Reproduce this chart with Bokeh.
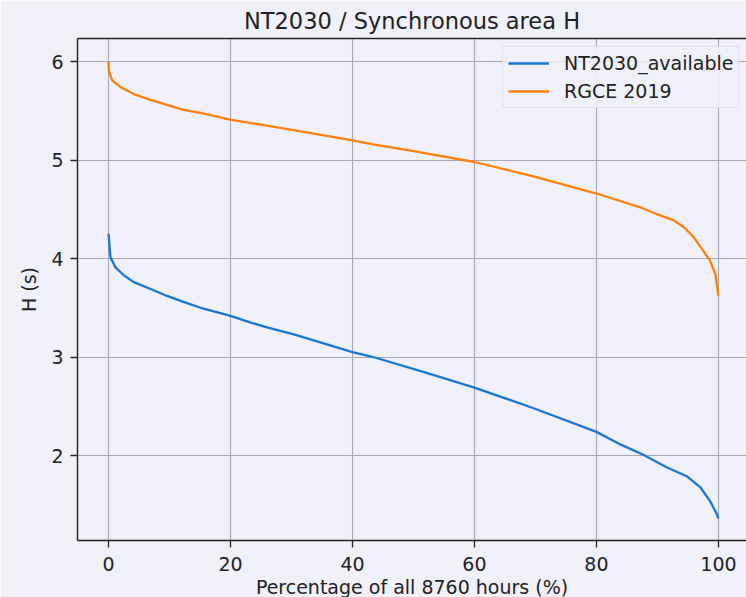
from bokeh.plotting import figure
from bokeh.models import Range1d, LinearAxis, FixedTicker, Legend, LegendItem, Grid
from bokeh.embed import file_html
from bokeh.resources import INLINE

# ---- data ----
title_text = "NT2030 / Synchronous area H"
x_label = "Percentage of all 8760 hours (%)"
y_label = "H (s)"

nt2030_name = "NT2030_available"
nt2030_x = [0, 0.33, 1.15, 2.5, 4.15, 6.9, 9.6, 12.3, 15.1, 19.9, 23.3, 26, 30.4,
            40, 43.4, 51.6, 60, 69.7, 80, 84, 87.6, 91.5, 94.8, 97, 98.6, 99.7, 100]
nt2030_h = [4.25, 4.01, 3.91, 3.83, 3.76, 3.69, 3.62, 3.56, 3.50, 3.42, 3.35, 3.30, 3.23,
            3.05, 3.00, 2.85, 2.69, 2.48, 2.24, 2.11, 2.01, 1.88, 1.79, 1.68, 1.54, 1.41, 1.36]

rgce_name = "RGCE 2019"
rgce_x = [0, 0.05, 0.6, 2, 4.15, 6.9, 9.6, 12.3, 15.1, 19.9, 26, 31.5, 40, 43.4,
          50, 60, 70, 80, 87.2, 89.9, 92.6, 94.3, 95.9, 97.5, 98.6, 99.5, 100]
rgce_h = [6.0, 5.91, 5.81, 5.74, 5.67, 5.61, 5.56, 5.51, 5.48, 5.41, 5.35, 5.29, 5.20, 5.16,
          5.09, 4.98, 4.83, 4.66, 4.52, 4.45, 4.39, 4.32, 4.22, 4.08, 3.98, 3.84, 3.62]

x_ticks = [0, 20, 40, 60, 80, 100]
y_ticks = [2, 3, 4, 5, 6]

BG = "#f0f0f8"
FONT = "DejaVu Sans"
INK = "#222222"

p = figure(width=746, height=603, output_backend="svg", toolbar_location=None,
           x_range=Range1d(-5.08, 104.6), y_range=Range1d(1.137, 6.234),
           x_axis_type=None, y_axis_type=None,
           min_border_left=77, min_border_right=0, min_border_top=38, min_border_bottom=63)
p.background_fill_color = BG
p.border_fill_color = BG
p.outline_line_color = None

p.title.text = title_text
p.title.align = "center"
p.title.text_font = FONT
p.title.text_font_size = "22.5px"
p.title.text_font_style = "normal"
p.title.text_color = INK
p.title.standoff = 10

def style_axis(ax, ticks):
    ax.ticker = FixedTicker(ticks=ticks)
    ax.axis_line_color = INK
    ax.axis_line_width = 1.4
    ax.major_tick_line_color = INK
    ax.major_tick_line_width = 1.3
    ax.major_tick_out = 7
    ax.major_tick_in = 0
    ax.minor_tick_out = 0
    ax.minor_tick_in = 0
    ax.major_label_text_font = FONT
    ax.major_label_text_font_size = "19px"
    ax.major_label_text_color = INK
    ax.axis_label_text_font = FONT
    ax.axis_label_text_font_size = "19px"
    ax.axis_label_text_font_style = "normal"
    ax.axis_label_text_color = INK

xaxis = LinearAxis(axis_label=x_label)
style_axis(xaxis, x_ticks)
xaxis.major_label_standoff = 9
xaxis.axis_label_standoff = 2
p.add_layout(xaxis, "below")

yaxis = LinearAxis(axis_label=y_label)
style_axis(yaxis, y_ticks)
yaxis.major_label_standoff = 7
yaxis.axis_label_standoff = 8
p.add_layout(yaxis, "left")

top_axis = LinearAxis(ticker=FixedTicker(ticks=[]), major_label_text_font_size="0px",
                      major_tick_out=0, major_tick_in=0, minor_tick_out=0, minor_tick_in=0,
                      major_label_standoff=0, axis_line_color=INK, axis_line_width=1.4)
p.add_layout(top_axis, "above")

p.xgrid.visible = False
p.ygrid.visible = False
p.add_layout(Grid(dimension=0, ticker=xaxis.ticker, grid_line_color="#a8a8b2", grid_line_width=1.1))
p.add_layout(Grid(dimension=1, ticker=yaxis.ticker, grid_line_color="#a8a8b2", grid_line_width=1.1))

r1 = p.line(nt2030_x, nt2030_h, line_color="#1877d2", line_width=2.3)
r2 = p.line(rgce_x, rgce_h, line_color="#ff800e", line_width=2.3)

legend = Legend(items=[LegendItem(label=nt2030_name, renderers=[r1]),
                       LegendItem(label=rgce_name, renderers=[r2])],
                location=(425, 432))
legend.label_text_font = FONT
legend.label_text_font_size = "19px"
legend.label_text_color = INK
legend.glyph_width = 41
legend.glyph_height = 22
legend.label_height = 22
legend.label_standoff = 15
legend.spacing = 6
legend.padding = 5
legend.margin = 0
legend.border_line_color = "#d4d4dc"
legend.background_fill_color = BG
legend.background_fill_alpha = 0.85
p.add_layout(legend)

html = file_html(p, INLINE)
html = html.replace("<body>", '<body style="background:%s;overflow:hidden">' % BG, 1)
html = html.replace("<html", '<html style="overflow:hidden"', 1)
open("out.html", "w").write(html)
